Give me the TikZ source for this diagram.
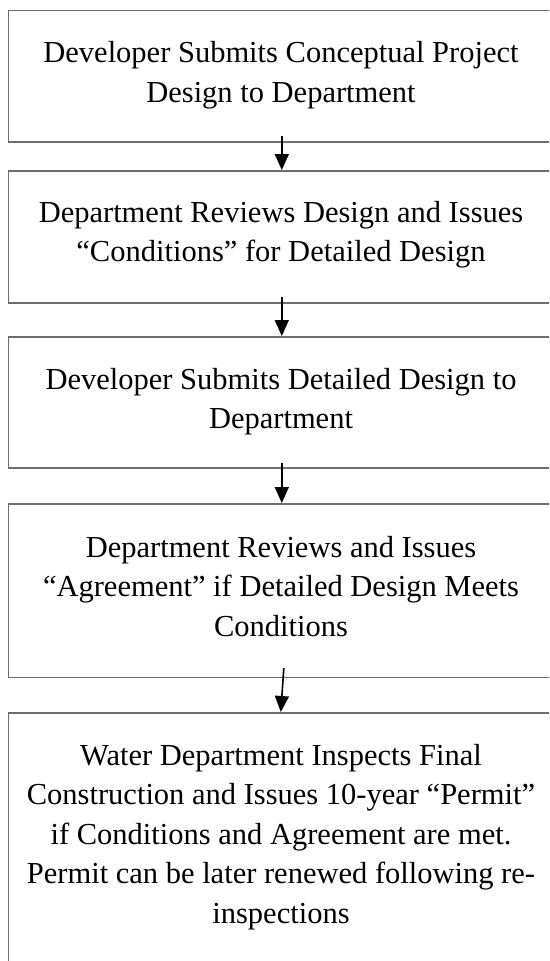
\documentclass[tikz,border=0pt]{standalone}
\usepackage{fontspec}
\setmainfont{Liberation Serif}
\usetikzlibrary{arrows.meta,calc}
\definecolor{boxgray}{HTML}{6E6E6E}
\tikzset{
  stepbox/.style={draw=boxgray, line width=1.6pt, rectangle, minimum width=547pt, inner sep=0pt, anchor=north west},
  steptext/.style={align=center, inner sep=0pt, anchor=north, font=\fontsize{30.5}{39.5}\selectfont, text=black},
  flowarrow/.style={draw=black, line width=1.6pt, -{Triangle[length=16pt,width=14pt]}},
}
\newcommand{\firstline}{\rule{0pt}{24pt}}
\begin{document}
\begin{tikzpicture}[x=1pt,y=-1pt]
\useasboundingbox (0,0) rectangle (549,961);
\clip (0,0) rectangle (549,961);
\fill[white] (0,0) rectangle (549,961);

\node[stepbox, minimum height=131.5pt] (b1) at (7.5,9.5) {};
\node[stepbox, minimum height=132pt] (b2) at (7.5,170) {};
\node[stepbox, minimum height=131pt] (b3) at (7.5,336) {};
\node[stepbox, minimum height=173.5pt] (b4) at (7.5,503) {};
\node[stepbox, minimum height=278pt] (b5) at (7.5,712) {};

\node[steptext] (t1) at (281,38.7) {\firstline Developer Submits Conceptual Project\\Design to Department};
\node[steptext] (t2) at (281,198) {\firstline Department Reviews Design and Issues\\“Conditions” for Detailed Design};
\node[steptext] (t3) at (281,365) {\firstline Developer Submits Detailed Design to\\Department};
\node[steptext] (t4) at (281,533) {\firstline Department Reviews and Issues\\“Agreement” if Detailed Design Meets\\Conditions};
\node[steptext] (t5) at (281,741) {\firstline Water Department Inspects Final\\Construction and Issues 10-year “Permit”\\if Conditions and Agreement are met.\\Permit can be later renewed following re-\\inspections};

\draw[flowarrow] ($(b1.south)+(0,-7)$) -- (b2.north);
\draw[flowarrow] ($(b2.south)+(0,-7)$) -- (b3.north);
\draw[flowarrow] ($(b3.south)+(0,-6)$) -- (b4.north);
\draw[flowarrow] ($(b4.south)+(2,-10)$) -- ($(b5.north)+(-1,0)$);
\end{tikzpicture}
\end{document}
